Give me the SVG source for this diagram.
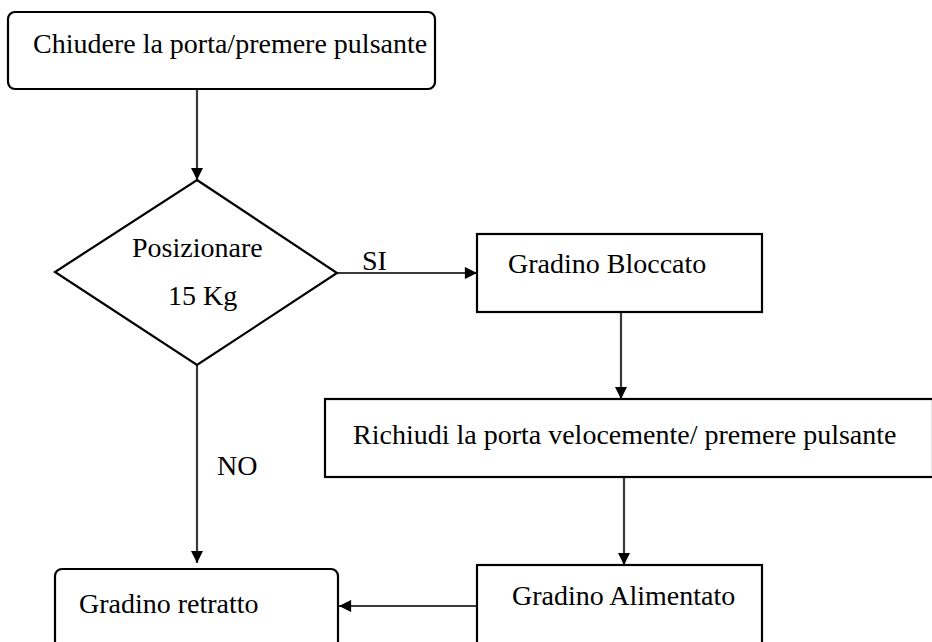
<svg xmlns="http://www.w3.org/2000/svg" width="932" height="642" viewBox="0 0 932 642">
<style>
.box{fill:#fff;stroke:#000;stroke-width:2.2}
.t{font-family:'Liberation Serif','Times New Roman',Times,serif;font-size:28px;fill:#000}
.c{fill:none;stroke:#3a3a3a;stroke-width:2.2}
</style>
<defs>
<marker id="ah" viewBox="0 0 10 10" refX="10" refY="5" markerWidth="6" markerHeight="5.5" markerUnits="strokeWidth" orient="auto">
<path d="M0,0 L10,5 L0,10 Z" fill="#000"/>
</marker>
</defs>
<rect width="932" height="642" fill="#fff"/>
<g id="connectors">
<path class="c" d="M197,89 V180" marker-end="url(#ah)"/>
<path class="c" d="M337,273 H477" marker-end="url(#ah)"/>
<path class="c" d="M621,312 V399" marker-end="url(#ah)"/>
<path class="c" d="M624,477 V565" marker-end="url(#ah)"/>
<path class="c" d="M197,365 V563" marker-end="url(#ah)"/>
<path class="c" d="M477,606 H339" marker-end="url(#ah)"/>
<text class="t" font-family="Liberation Serif, serif" x="362" y="270">SI</text>
<text class="t" font-family="Liberation Serif, serif" x="217" y="475">NO</text>
</g>
<g id="n1">
<rect class="box" x="8" y="12" width="427" height="77" rx="7"/>
<text class="t" font-family="Liberation Serif, serif" x="33" y="53">Chiudere la porta/premere pulsante</text>
</g>
<g id="n2">
<polygon class="box" points="197,180 337,273 197,365 55,272"/>
<text class="t" font-family="Liberation Serif, serif" x="132" y="257">Posizionare</text>
<text class="t" font-family="Liberation Serif, serif" x="168" y="305">15 Kg</text>
</g>
<g id="n3">
<rect class="box" x="477" y="234" width="285" height="78"/>
<text class="t" font-family="Liberation Serif, serif" x="508" y="273">Gradino Bloccato</text>
</g>
<g id="n4">
<rect class="box" x="325" y="399" width="608" height="78"/>
<text class="t" font-family="Liberation Serif, serif" x="353" y="444">Richiudi la porta velocemente/ premere pulsante</text>
</g>
<g id="n5">
<rect class="box" x="477" y="565" width="285" height="90"/>
<text class="t" font-family="Liberation Serif, serif" x="512" y="605">Gradino Alimentato</text>
</g>
<g id="n6">
<rect class="box" x="55" y="569" width="283" height="90" rx="7"/>
<text class="t" font-family="Liberation Serif, serif" x="79" y="613">Gradino retratto</text>
</g>
</svg>
